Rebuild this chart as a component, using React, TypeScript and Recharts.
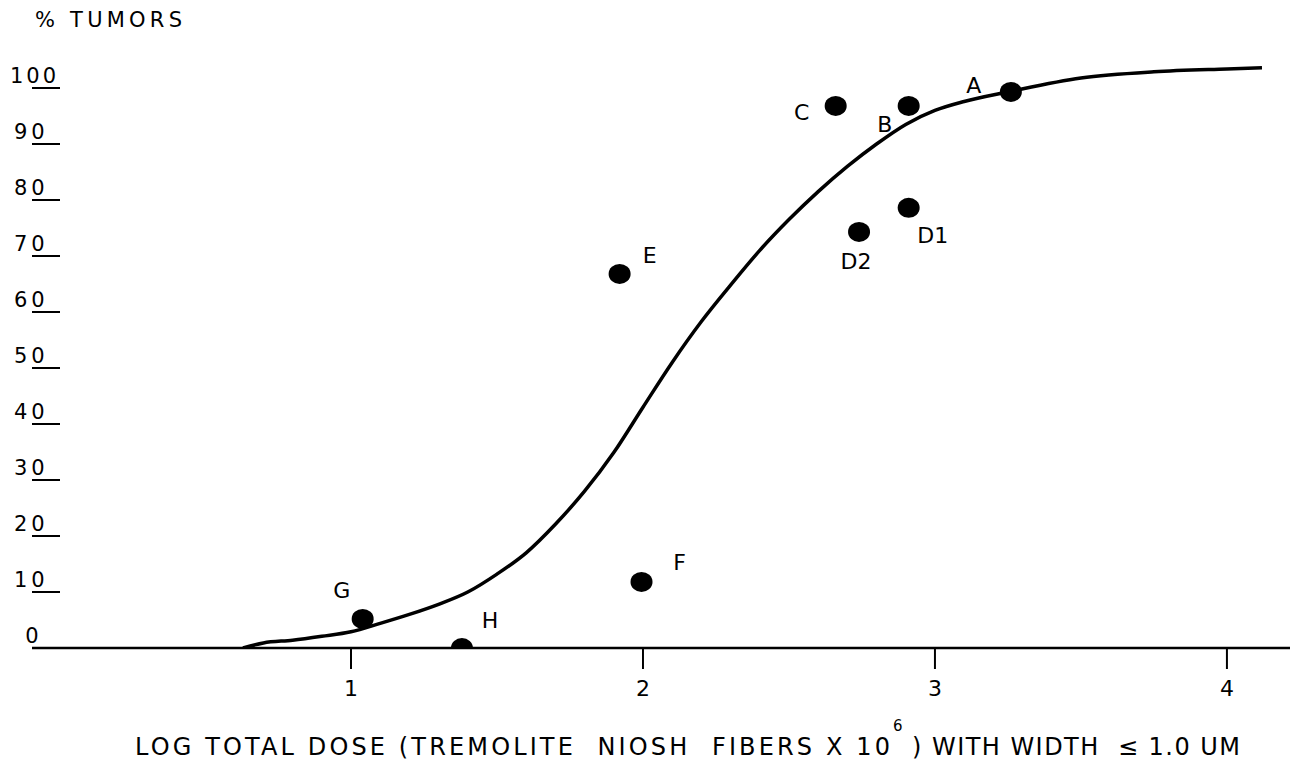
import { ComposedChart, Line, Scatter, XAxis, YAxis } from 'recharts';

// fitted dose-response curve
const curveX = [0.63, 0.7, 0.8, 0.9, 1.0, 1.1, 1.2, 1.3, 1.4, 1.5, 1.6, 1.7, 1.8, 1.9, 2.0, 2.1, 2.2, 2.3, 2.4, 2.5, 2.6, 2.7, 2.8, 2.9, 3.0, 3.1, 3.25, 3.5, 3.75, 4.0, 4.12];
const curveY = [0, 0.9, 1.4, 2.1, 2.9, 4.4, 6.0, 7.8, 10, 13.2, 17, 22.1, 28, 34.9, 43, 51, 58.3, 64.8, 71, 76.5, 81.5, 86, 90, 93.5, 96, 97.6, 99.3, 101.8, 102.9, 103.4, 103.6];

// study groups
const groups = ['A', 'B', 'C', 'D1', 'D2', 'E', 'F', 'G', 'H'];
const doses = [3.26, 2.91, 2.66, 2.91, 2.74, 1.92, 1.995, 1.04, 1.38];
const tumors = [99.3, 96.8, 96.8, 78.6, 74.3, 66.8, 11.8, 5.2, 0];

const xTicks = [1, 2, 3, 4];
const yTicks = [0, 10, 20, 30, 40, 50, 60, 70, 80, 90, 100];

// where each letter sits relative to its dot
const labelOffset: Record<string, [number, number]> = {
  A: [-37, 1],
  B: [-24, 26],
  C: [-34, 14],
  D1: [24, 35],
  D2: [-3, 37],
  E: [30, -11],
  F: [38, -12],
  G: [-21, -21],
  H: [28, -20],
};

const curve = curveX.map((x, i) => ({ x, y: curveY[i] }));
const points = groups.map((name, i) => ({ name, x: doses[i], y: tumors[i] }));

const font = '"DejaVu Sans", sans-serif';

const YTick = (props: any) => {
  const { x, y, payload } = props;
  const v = payload.value;
  if (v === 0) {
    return (
      <text x={x} y={y - 5} textAnchor="middle" fontSize={21} fontFamily={font} fill="#000">
        0
      </text>
    );
  }
  return (
    <g>
      <text
        x={v === 100 ? x - 22 : x - 18}
        y={y - 5}
        textAnchor="start"
        fontSize={21}
        fontFamily={font}
        letterSpacing={v === 100 ? 3 : 4}
        fill="#000"
      >
        {v}
      </text>
      <line x1={x} x2={x + 28} y1={y} y2={y} stroke="#000" strokeWidth={2} />
    </g>
  );
};

const XTick = (props: any) => {
  const { x, y, payload } = props;
  return (
    <text x={x} y={y + 25} textAnchor="middle" fontSize={22} fontFamily={font} fill="#000">
      {payload.value}
    </text>
  );
};

const Dot = (props: any) => {
  const { cx, cy, payload } = props;
  const [dx, dy] = labelOffset[payload.name] || [0, 0];
  return (
    <g>
      <ellipse cx={cx} cy={cy} rx={11} ry={10} fill="#000" />
      <text x={cx + dx} y={cy + dy} textAnchor="middle" fontSize={22} fontFamily={font} fill="#000">
        {payload.name}
      </text>
    </g>
  );
};

export default function App() {
  return (
    <div style={{ position: 'absolute', left: 0, top: 0, width: 1306, height: 761, background: '#fff' }}>
      <ComposedChart width={1306} height={761} margin={{ top: 60, right: 16, bottom: 0, left: 0 }}>
        <XAxis
          dataKey="x"
          type="number"
          domain={[-0.0925, 4.216]}
          allowDataOverflow
          ticks={xTicks}
          height={113}
          axisLine={{ stroke: '#000', strokeWidth: 2.5 }}
          tickLine={{ stroke: '#000', strokeWidth: 2 }}
          tickSize={21}
          tickMargin={2}
          tick={<XTick />}
        />
        <YAxis
          type="number"
          domain={[0, 105]}
          allowDataOverflow
          ticks={yTicks}
          width={32}
          axisLine={false}
          tickLine={false}
          tickSize={0}
          tickMargin={0}
          tick={<YTick />}
        />
        <Line
          data={curve}
          dataKey="y"
          type="monotone"
          stroke="#000"
          strokeWidth={3.5}
          dot={false}
          activeDot={false}
          isAnimationActive={false}
        />
        <Scatter data={points} dataKey="y" shape={<Dot />} isAnimationActive={false} />
        <text x={35} y={27} fontSize={21} fontFamily={font} textLength={147} lengthAdjust="spacing" fill="#000" style={{ whiteSpace: 'pre' }}>
          % TUMORS
        </text>
        <text x={135} y={755} fontSize={24} fontFamily={font} textLength={755} lengthAdjust="spacing" fill="#000" style={{ whiteSpace: 'pre' }}>
          {'LOG TOTAL DOSE (TREMOLITE  NIOSH  FIBERS X 10'}
        </text>
        <text x={893} y={731} fontSize={15} fontFamily={font} fill="#000">
          6
        </text>
        <text x={912} y={755} fontSize={24} fontFamily={font} textLength={328} lengthAdjust="spacing" fill="#000" style={{ whiteSpace: 'pre' }}>
          {') WITH WIDTH  ≤ 1.0 UM'}
        </text>
      </ComposedChart>
    </div>
  );
}
